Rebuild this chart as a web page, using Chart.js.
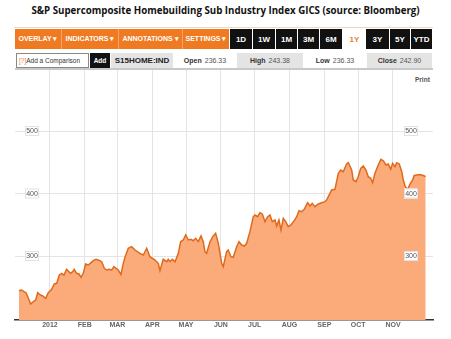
<!DOCTYPE html>
<html><head><meta charset="utf-8">
<script src="https://cdn.jsdelivr.net/npm/chart.js@4"></script>
<style>
html,body{margin:0;padding:0;background:#fff;width:451px;height:339px;overflow:hidden;font-family:"Liberation Sans",Arial,sans-serif;}
.abs{position:absolute;box-sizing:border-box;}
#title{position:absolute;left:0;top:4px;width:451px;text-align:center;font-family:"Open Sans","Liberation Sans",sans-serif;font-weight:bold;font-size:11px;color:#111;white-space:nowrap;}
.ob{background:#f07a22;color:#fff;font-weight:bold;font-size:7px;display:flex;align-items:center;justify-content:center;top:29px;height:20px;border-right:1px solid #f6a66a;}
.bb{background:#111;color:#fff;font-weight:bold;font-size:8px;display:flex;align-items:center;justify-content:center;top:29px;height:20px;}
.r2{top:53px;height:15px;display:flex;align-items:center;justify-content:center;font-size:7px;color:#555;}
.g{background:#e4e4e4;}
.r2 b{color:#333;margin-right:3px;}
canvas{display:block;}
</style></head><body>
<div id="title"><span id="tt">S&amp;P Supercomposite Homebuilding Sub Industry Index GICS (source: Bloomberg)</span></div>
<div class="abs" style="left:14px;top:27px;width:419px;height:1px;background:#f1d6c2"></div>
<div class="abs ob" style="left:15px;width:47px">OVERLAY ▾</div>
<div class="abs ob" style="left:62px;width:57px">INDICATORS ▾</div>
<div class="abs ob" style="left:119px;width:64px">ANNOTATIONS ▾</div>
<div class="abs ob" style="left:183px;width:46px;border-right:none">SETTINGS ▾</div>
<div class="abs bb" style="left:230px;width:22px">1D</div>
<div class="abs bb" style="left:253px;width:22px">1W</div>
<div class="abs bb" style="left:276px;width:21px">1M</div>
<div class="abs bb" style="left:298px;width:21px">3M</div>
<div class="abs bb" style="left:320px;width:22px">6M</div>
<div class="abs bb" style="left:343px;width:23px;background:#fff;color:#e8822e">1Y</div>
<div class="abs bb" style="left:366px;width:23px">3Y</div>
<div class="abs bb" style="left:390px;width:20px">5Y</div>
<div class="abs bb" style="left:411px;width:21px">YTD</div>
<div class="abs r2" style="left:16px;width:73px;border:1px solid #888;justify-content:flex-start;padding-left:2px;color:#333;font-size:6.5px"><span style="color:#e8822e">[?]</span>Add a Comparison</div>
<div class="abs r2" style="left:90px;width:20px;background:#111;color:#fff;font-weight:bold;font-size:6.5px">Add</div>
<div class="abs r2 g" style="left:111px;width:62px;color:#222;font-size:8px;font-weight:bold">S15HOME:IND</div>
<div class="abs r2" style="left:173px;width:64px"><b>Open</b>236.33</div>
<div class="abs r2 g" style="left:237px;width:66px"><b>High</b>243.38</div>
<div class="abs r2" style="left:303px;width:64px"><b>Low</b>236.33</div>
<div class="abs r2 g" style="left:367px;width:65px"><b>Close</b>242.90</div>
<div class="abs" style="left:15px;top:68px;width:418px;height:2px;background:#c8c8c8"></div>
<div class="abs" style="left:415px;top:76px;font-size:6.5px;font-weight:bold;color:#555">Print</div>
<div class="abs" style="left:0;top:70px;width:451px;height:269px"><canvas id="c" width="451" height="269"></canvas></div>
<script>
// days offset from 1 Jan 2012
const days = [-27.6,-25.2,-23.1,-21.3,-19.3,-17.2,-14.8,-12.7,-10.9,-8.9,-6.5,-3.8,-1.5,1.5,3.8,6.0,8.3,10.4,12.4,14.8,16.9,18.4,20.2,21.6,23.7,25.8,27.6,29.6,31.7,34.1,36.5,38.5,40.9,42.9,46.0,48.3,50.4,52.7,54.9,56.9,58.7,60.7,63.1,65.2,66.7,69.6,72.6,75.6,80.0,83.0,86.0,88.9,93.4,96.3,97.8,100.7,103.8,105.2,106.7,108.7,111.2,114.1,116.2,118.5,120.7,123.0,125.4,127.4,129.6,131.9,134.3,136.3,137.8,139.3,142.3,145.2,147.3,149.7,152.7,154.1,157.1,158.5,160.9,163.0,166.0,168.1,170.5,172.8,174.9,177.8,180.8,182.3,184.7,186.7,188.8,191.2,193.6,195.6,197.7,200.1,201.6,203.6,205.4,207.5,209.6,211.9,214.3,217.2,219.4,221.4,223.8,226.1,229.1,231.2,233.2,235.6,238.6,241.6,244.5,246.0,250.5,253.4,256.4,258.5,260.8,263.8,265.3,268.3,269.7,272.1,274.1,276.3,278.6,281.0,283.0,285.2,286.9,289.0,291.9,294.3,296.4,298.8,300.8,303.0,304.7,306.8,308.3,310.6,312.8,314.2,315.7,317.9,320.1,322.5,323.9,326.1,329.0,332.0,334.1];
const values = [244.5,245.6,242.9,241.3,232.8,223.2,226.9,229.6,241.3,238.1,236.0,232.3,241.3,246.7,255.2,256.3,269.6,272.3,269.6,278.7,274.9,272.3,274.9,278.7,272.3,271.2,265.9,272.3,287.2,285.6,289.3,292.5,294.7,293.6,290.9,280.3,277.6,278.7,277.6,282.9,280.3,277.6,270.5,288.3,297.9,312.3,314.9,309.6,304.3,301.6,312.3,298.9,293.6,288.3,276.5,294.7,290.9,294.7,290.9,294.7,290.9,304.3,322.9,325.6,333.6,325.6,326.7,324.5,328.3,322.9,332.0,322.9,306.9,304.3,322.9,332.0,336.3,320.3,288.3,282.9,306.9,309.6,298.9,297.9,314.9,322.9,317.6,316.0,320.3,338.9,362.9,365.6,362.9,369.3,367.2,354.9,362.9,365.6,354.9,357.6,348.0,357.6,341.6,360.3,354.9,346.9,349.6,356.5,362.9,372.5,370.9,374.7,385.3,380.0,384.3,378.9,383.2,385.3,386.9,389.6,405.6,406.7,432.3,437.6,434.9,447.2,449.3,437.6,421.6,418.9,426.9,440.3,444.0,437.6,426.9,424.3,417.3,432.3,445.6,454.7,452.5,445.6,447.2,438.7,448.3,442.9,449.3,447.2,434.9,421.6,412.0,405.6,415.2,421.6,428.8,429.6,430.4,428.8,426.9];
const monthStarts = [0,31,60,91,121,152,182,213,244,274,305];
const monthLabels = ['2012','FEB','MAR','APR','MAY','JUN','JUL','AUG','SEP','OCT','NOV'];
const yTicks = [300,400,500];

// fit title width
(function(){const t=document.getElementById('tt');const w=t.getBoundingClientRect().width;const fs=11*389/w;document.getElementById('title').style.fontSize=fs+'px';})();

const labelPlugin = {
  id:'ylabels',
  afterDatasetsDraw(chart){
    const ctx=chart.ctx, y=chart.scales.y;
    ctx.save();
    ctx.font='7px "Liberation Sans", Arial, sans-serif';
    ctx.textAlign='center'; ctx.textBaseline='middle';
    yTicks.forEach(v=>{
      const py=y.getPixelForValue(v);
      [32,411].forEach(px=>{
        ctx.fillStyle='#fff'; ctx.fillRect(px-7,py-5,14,10);
        ctx.strokeStyle='#e2e2e2'; ctx.lineWidth=1; ctx.strokeRect(px-7+0.5,py-5+0.5,13,9);
        ctx.fillStyle='#555'; ctx.fillText(String(v),px,py+0.5);
      });
    });
    ctx.restore();
  }
};

new Chart(document.getElementById('c'),{
  type:'line',
  data:{datasets:[{
    data:days.map((d,i)=>({x:d,y:values[i]})),
    borderColor:'#e06a1c',borderWidth:1.5,
    backgroundColor:'#fbab7a',
    fill:'start',pointRadius:0,tension:0
  }]},
  options:{
    responsive:false,animation:false,
    layout:{padding:{left:15,right:18,top:0,bottom:0}},
    plugins:{legend:{display:false},tooltip:{enabled:false}},
    scales:{
      x:{type:'linear',min:-31.1,max:340.6,
        afterBuildTicks(s){s.ticks=monthStarts.map(v=>({value:v}));},
        afterFit(s){s.height=19;},
        ticks:{autoSkip:false,maxRotation:0,padding:1,color:'#666',font:{size:7,weight:'bold',family:'"Liberation Sans", Arial, sans-serif'},
          callback(v){const i=monthStarts.indexOf(v);return i>=0?monthLabels[i]:'';}},
        grid:{color:'#e4e4e4',drawTicks:false,lineWidth:1},
        border:{color:'#333',width:1.5}
      },
      y:{min:197.6,max:597.6,
        afterBuildTicks(s){s.ticks=yTicks.map(v=>({value:v}));},
        afterFit(s){s.width=0;},
        ticks:{display:false},
        grid:{color:'#e4e4e4',drawTicks:false,lineWidth:1},
        border:{display:false}
      }
    }
  },
  plugins:[labelPlugin]
});
</script>
</body></html>
